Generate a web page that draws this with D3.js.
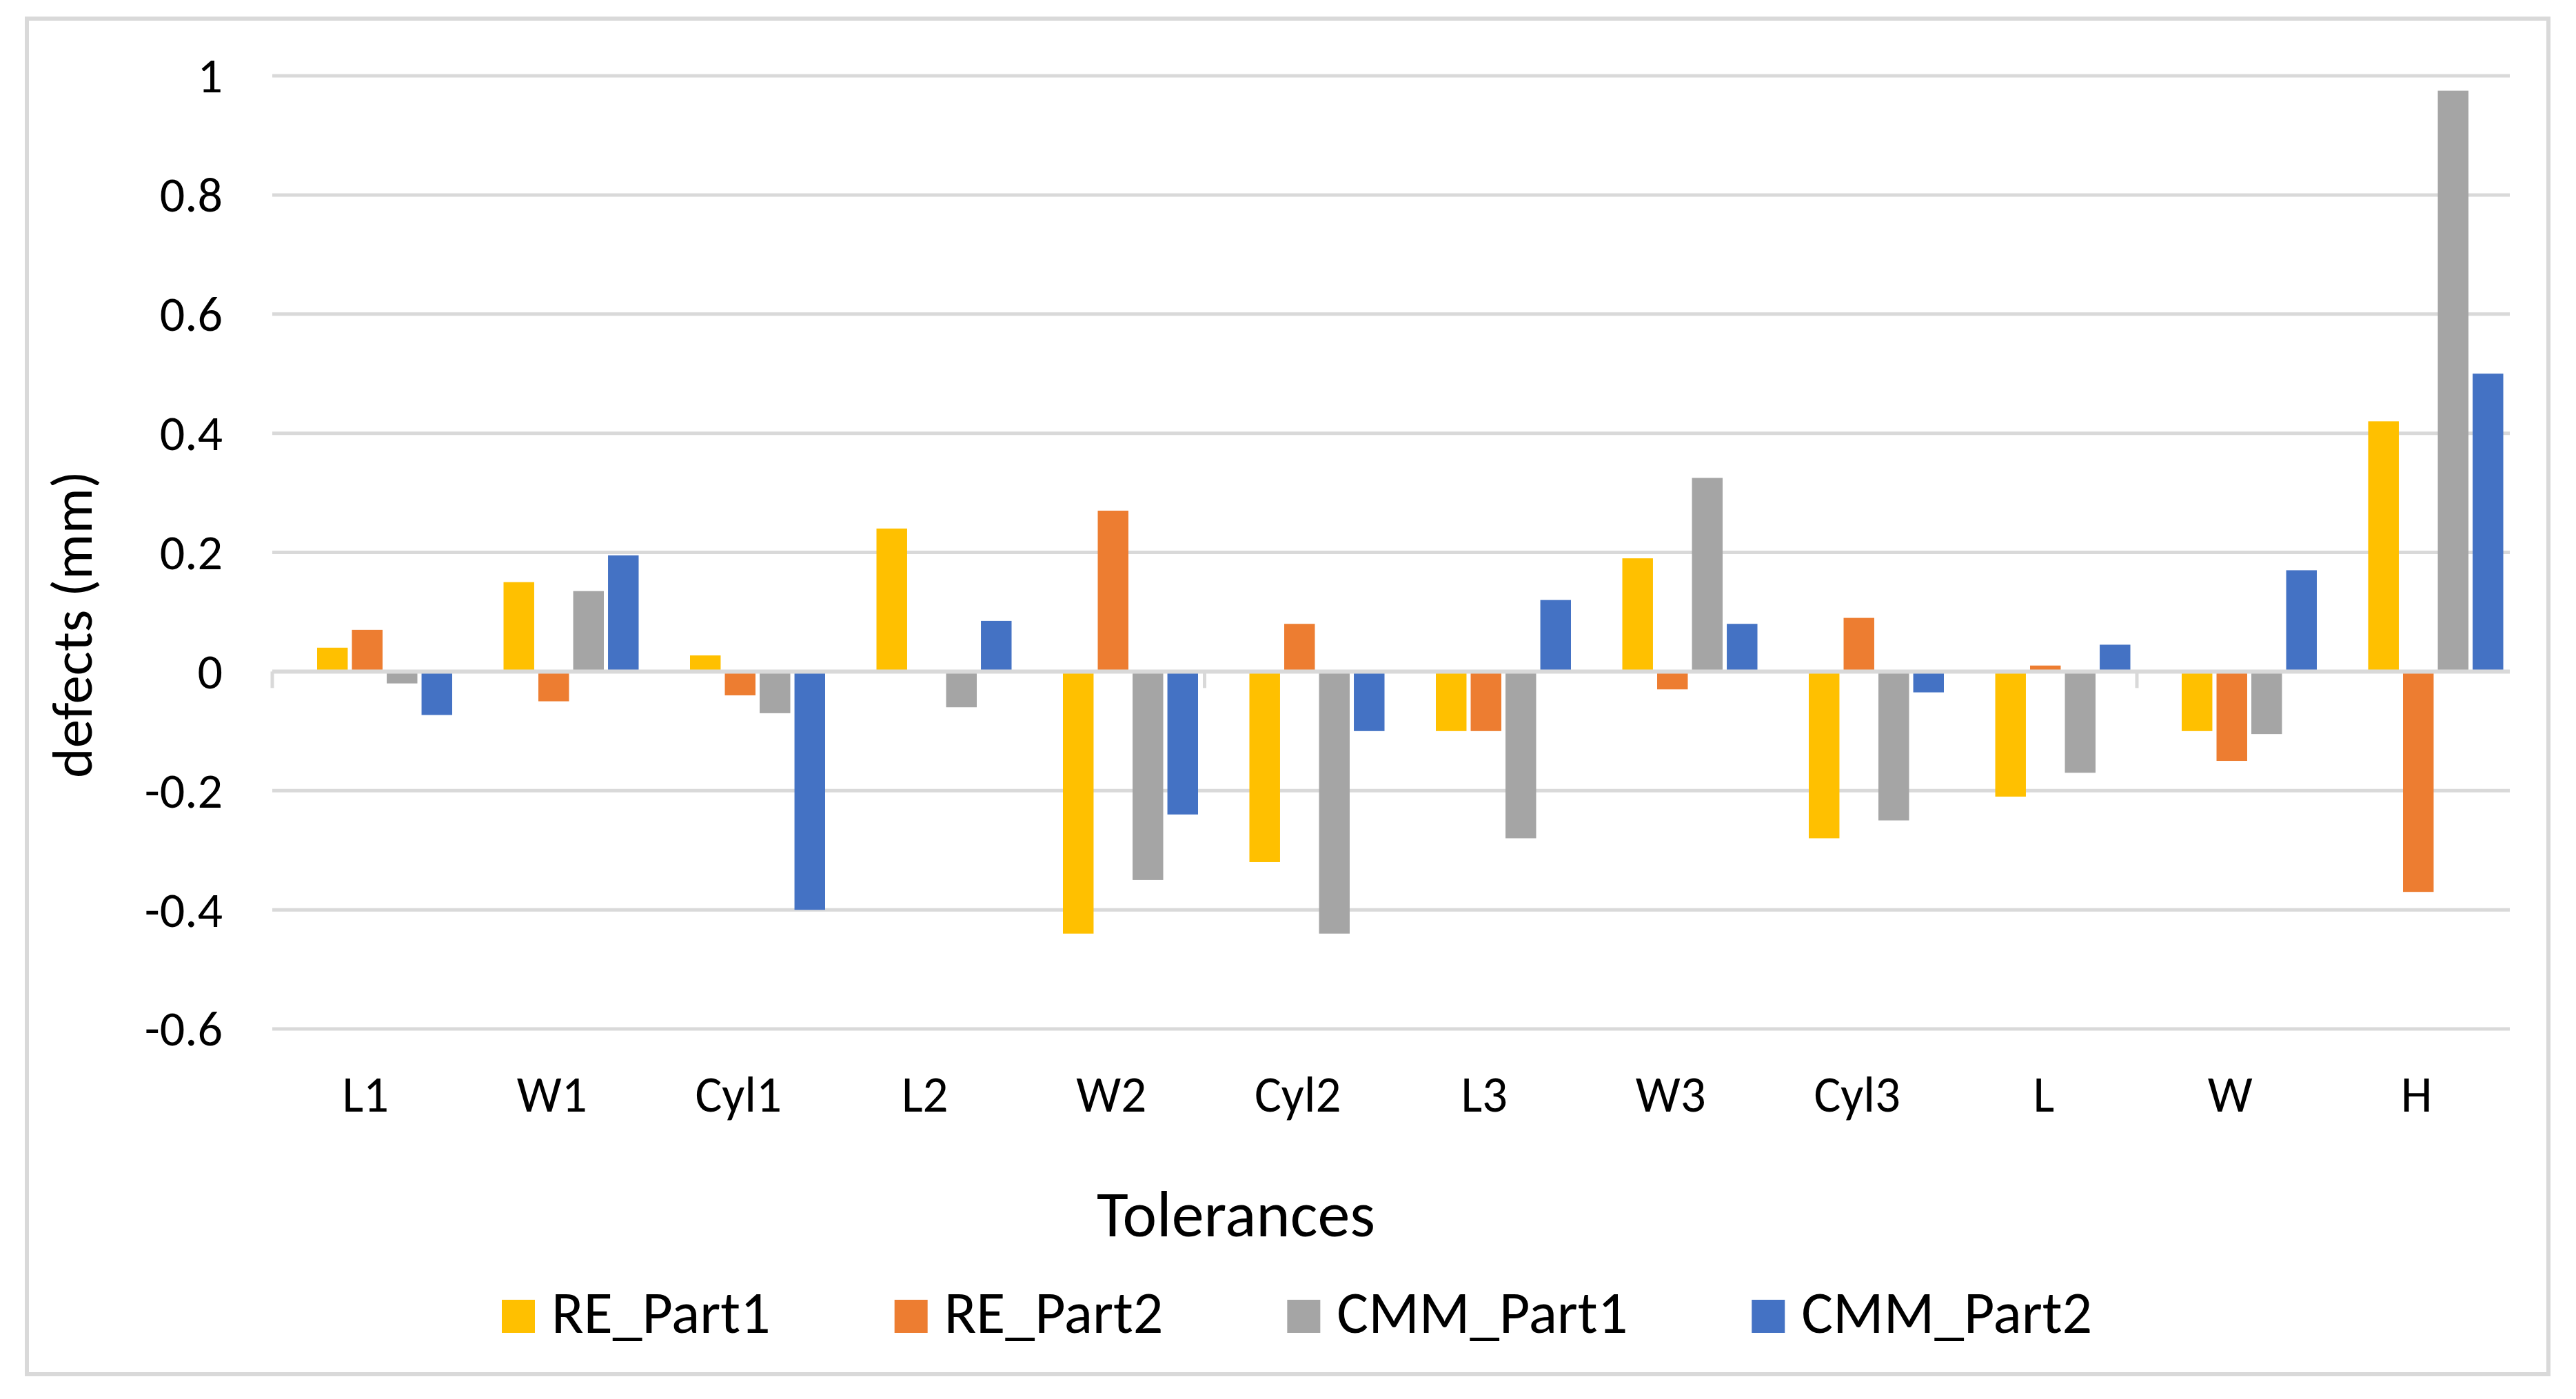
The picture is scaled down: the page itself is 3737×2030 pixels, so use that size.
<!DOCTYPE html>
<html lang="en">
<head>
<meta charset="UTF-8">
<title>defects per tolerance</title>
<script src="https://d3js.org/d3.v7.min.js"></script>
<style>
  html, body { margin: 0; padding: 0; background: #fff; }
  text { font-family: Carlito, Calibri, "Open Sans", sans-serif; fill: #000; }
</style>
</head>
<body>
<script>
var categories = ["L1", "W1", "Cyl1", "L2", "W2", "Cyl2", "L3", "W3", "Cyl3", "L", "W", "H"];
var seriesNames = ["RE_Part1", "RE_Part2", "CMM_Part1", "CMM_Part2"];
var rePart1  = [0.04, 0.15, 0.027, 0.24, -0.44, -0.32, -0.10, 0.19, -0.28, -0.21, -0.10, 0.42];
var rePart2  = [0.07, -0.05, -0.04, 0, 0.27, 0.08, -0.10, -0.03, 0.09, 0.01, -0.15, -0.37];
var cmmPart1 = [-0.02, 0.135, -0.07, -0.06, -0.35, -0.44, -0.28, 0.325, -0.25, -0.17, -0.105, 0.975];
var cmmPart2 = [-0.073, 0.195, -0.40, 0.085, -0.24, -0.10, 0.12, 0.08, -0.035, 0.045, 0.17, 0.50];
var yTicks = [-0.6, -0.4, -0.2, 0, 0.2, 0.4, 0.6, 0.8, 1];
var colors = ["#FFC000", "#ED7D31", "#A5A5A5", "#4472C4"];

var series = [rePart1, rePart2, cmmPart1, cmmPart2];

var W = 3737, H = 2030;
var plotLeft = 395, plotRight = 3641, plotTop = 110, plotBottom = 1493;

var svg = d3.select("body").append("svg")
  .attr("width", W)
  .attr("height", H);

// chart border
svg.append("rect")
  .attr("x", 39).attr("y", 27)
  .attr("width", 3658).attr("height", 1967)
  .attr("fill", "#fff")
  .attr("stroke", "#D9D9D9")
  .attr("stroke-width", 6);

var x = d3.scaleBand().domain(categories).range([plotLeft, plotRight]).padding(0);
var y = d3.scaleLinear().domain([-0.6, 1]).range([plotBottom, plotTop]);

// bars sit a bit right of the band centre, like the source
var inner = d3.scaleBand().domain(seriesNames)
  .range([65, 65 + 4 * 49]).paddingInner(0.12).paddingOuter(0);

// gridlines
svg.append("g")
  .selectAll("line")
  .data(yTicks)
  .enter().append("line")
  .attr("x1", plotLeft).attr("x2", plotRight)
  .attr("y1", function(d) { return y(d); })
  .attr("y2", function(d) { return y(d); })
  .attr("stroke", "#D9D9D9")
  .attr("stroke-width", 5);

// y tick labels (plain hyphen minus, as in the source)
svg.append("g")
  .selectAll("text")
  .data(yTicks)
  .enter().append("text")
  .attr("x", 323)
  .attr("y", function(d) { return y(d); })
  .attr("dy", "0.34em")
  .attr("text-anchor", "end")
  .attr("font-size", 72)
  .text(function(d) { return String(d); });

// bars
seriesNames.forEach(function(name, s) {
  svg.append("g")
    .selectAll("rect")
    .data(series[s])
    .enter().append("rect")
    .attr("x", function(d, i) { return x(categories[i]) + inner(name); })
    .attr("width", inner.bandwidth())
    .attr("y", function(d) { return y(Math.max(0, d)); })
    .attr("height", function(d) { return Math.abs(y(d) - y(0)); })
    .attr("fill", colors[s]);
});

// zero axis and its tick marks (every 5 categories)
svg.append("line")
  .attr("x1", plotLeft).attr("x2", plotRight)
  .attr("y1", y(0)).attr("y2", y(0))
  .attr("stroke", "#D9D9D9")
  .attr("stroke-width", 6);

svg.append("g")
  .selectAll("line")
  .data([0, 5, 10])
  .enter().append("line")
  .attr("x1", function(d) { return x(categories[d]); })
  .attr("x2", function(d) { return x(categories[d]); })
  .attr("y1", y(0)).attr("y2", y(0) + 24)
  .attr("stroke", "#D9D9D9")
  .attr("stroke-width", 5);

// category labels
svg.append("g")
  .selectAll("text")
  .data(categories)
  .enter().append("text")
  .attr("x", function(d) { return x(d) + x.bandwidth() / 2; })
  .attr("y", 1613)
  .attr("text-anchor", "middle")
  .attr("font-size", 73)
  .text(function(d) { return d; });

// axis titles
svg.append("text")
  .attr("transform", "translate(133,906) rotate(-90)")
  .attr("text-anchor", "middle")
  .attr("font-size", 83)
  .text("defects (mm)");

svg.append("text")
  .attr("x", 1793).attr("y", 1794)
  .attr("text-anchor", "middle")
  .attr("font-size", 94)
  .text("Tolerances");

// legend
var legend = svg.append("g");
var lx = 728;
seriesNames.forEach(function(name, s) {
  legend.append("rect")
    .attr("x", lx).attr("y", 1886)
    .attr("width", 48).attr("height", 48)
    .attr("fill", colors[s]);
  var t = legend.append("text")
    .attr("x", lx + 72).attr("y", 1934)
    .attr("font-size", 86)
    .text(name);
  lx += 72 + t.node().getComputedTextLength() + 180;
});
</script>
</body>
</html>
